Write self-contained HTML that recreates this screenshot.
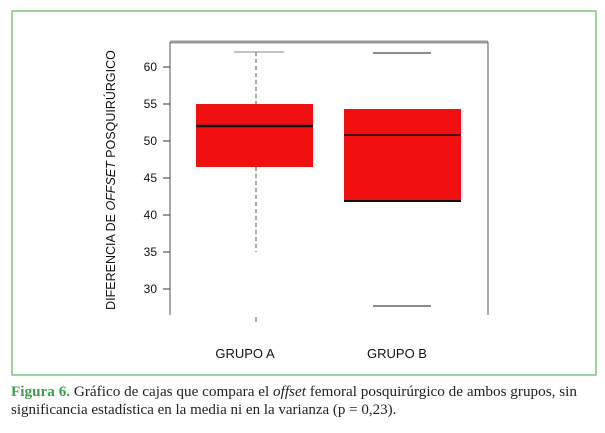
<!DOCTYPE html>
<html><head><meta charset="utf-8"><style>
body{margin:0;background:#fff;width:605px;height:433px;overflow:hidden}
</style></head><body>
<svg width="605" height="433" xmlns="http://www.w3.org/2000/svg" style="position:absolute;left:0;top:0">
<rect x="12" y="11" width="584" height="364" fill="none" stroke="#7cc47a" stroke-width="1.5"/>
<line x1="170" y1="42" x2="488" y2="42" stroke="#999" stroke-width="3"/>
<line x1="170" y1="42" x2="170" y2="315" stroke="#555" stroke-width="1"/>
<line x1="488" y1="42" x2="488" y2="315" stroke="#555" stroke-width="1"/>
<g stroke="#333" stroke-width="1">
<line x1="163" y1="67" x2="170" y2="67"/><line x1="163" y1="104" x2="170" y2="104"/>
<line x1="163" y1="141" x2="170" y2="141"/><line x1="163" y1="178" x2="170" y2="178"/>
<line x1="163" y1="215" x2="170" y2="215"/><line x1="163" y1="252" x2="170" y2="252"/>
<line x1="163" y1="289" x2="170" y2="289"/>
</g>
<g font-family="Liberation Sans, sans-serif" font-size="12" fill="#111" text-anchor="end">
<text x="157" y="71">60</text><text x="157" y="108">55</text><text x="157" y="145">50</text>
<text x="157" y="182">45</text><text x="157" y="219">40</text><text x="157" y="256">35</text>
<text x="157" y="293">30</text>
</g>
<text transform="translate(115,180) rotate(-90)" text-anchor="middle" font-family="Liberation Sans, sans-serif" font-size="12.5" fill="#111">DIFERENCIA DE <tspan font-style="italic">OFFSET</tspan> POSQUIRÚRGICO</text>
<line x1="256" y1="52" x2="256" y2="104" stroke="#555" stroke-dasharray="4,3"/>
<line x1="256" y1="167" x2="256" y2="252" stroke="#555" stroke-dasharray="4,3"/>
<line x1="234" y1="52" x2="284" y2="52" stroke="#888"/>
<line x1="256" y1="317" x2="256" y2="322" stroke="#555"/>
<rect x="196" y="104" width="117" height="63" fill="#f01010"/>
<line x1="196" y1="126" x2="313" y2="126" stroke="#111" stroke-width="2.5"/>
<line x1="373" y1="53" x2="431" y2="53" stroke="#666" stroke-width="1.5"/>
<line x1="373" y1="306" x2="431" y2="306" stroke="#666" stroke-width="1.5"/>
<rect x="344" y="109" width="117" height="92" fill="#f01010"/>
<line x1="344" y1="135" x2="461" y2="135" stroke="#111" stroke-width="1.5"/>
<line x1="344" y1="201" x2="461" y2="201" stroke="#111" stroke-width="2"/>
<g font-family="Liberation Sans, sans-serif" font-size="13" fill="#111" text-anchor="middle">
<text x="245" y="358">GRUPO A</text><text x="397" y="358">GRUPO B</text>
</g>
<g font-family="Liberation Serif, serif" font-size="15" fill="#222">
<text x="11" y="396" textLength="566" lengthAdjust="spacingAndGlyphs"><tspan fill="#3aa04a" font-weight="bold">Figura 6.</tspan> Gráfico de cajas que compara el <tspan font-style="italic">offset</tspan> femoral posquirúrgico de ambos grupos, sin</text>
<text x="11" y="414">significancia estadística en la media ni en la varianza (p = 0,23).</text>
</g>
</svg>
</body></html>
